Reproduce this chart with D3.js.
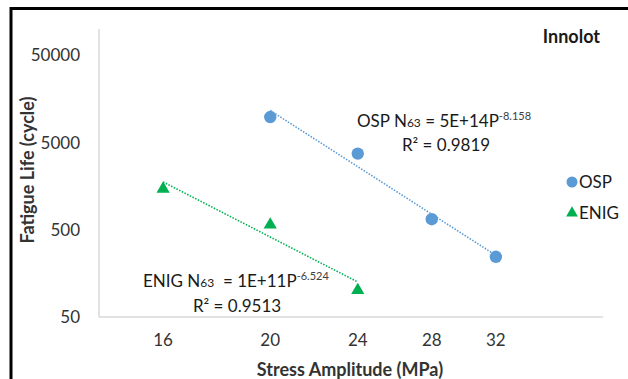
<!DOCTYPE html>
<html>
<head>
<meta charset="utf-8">
<script src="https://cdn.jsdelivr.net/npm/d3@7"></script>
<style>
  body { margin: 0; background: #fff; }
  svg text { font-family: Lato, "Open Sans", sans-serif; white-space: pre; }
</style>
</head>
<body>
<div id="chart"></div>
<script>
// data
var ospStress = [20, 24, 28, 32];
var ospLife = [9800, 3730, 660, 245];
var enigStress = [16, 20, 24];
var enigLife = [1510, 585, 104];
var xTicks = [16, 20, 24, 28, 32];
var yTicks = [50, 500, 5000, 50000];
var ospColor = "#5b9bd5";
var enigColor = "#00b050";

var width = 628, height = 379;
var svg = d3.select("#chart").append("svg")
    .attr("width", width)
    .attr("height", height);

// frame
svg.append("rect")
    .attr("x", 11).attr("y", 8.5)
    .attr("width", width + 20).attr("height", height + 20)
    .attr("fill", "none")
    .attr("stroke", "#000")
    .attr("stroke-width", 3);

var x = d3.scaleLog().domain([14, 40]).range([99, 603]);
var y = d3.scaleLog().domain([50, 100000]).range([317, 29]);

// axis lines
svg.append("line")
    .attr("x1", 99).attr("x2", 99).attr("y1", 29).attr("y2", 317)
    .attr("stroke", "#d9d9d9").attr("stroke-width", 1.5);
svg.append("line")
    .attr("x1", 99).attr("x2", 603).attr("y1", 317).attr("y2", 317)
    .attr("stroke", "#d9d9d9").attr("stroke-width", 1.5);

// tick labels
svg.selectAll(".xtick").data(xTicks).enter().append("text")
    .attr("class", "xtick")
    .attr("x", function(d){ return x(d); })
    .attr("y", 346)
    .attr("text-anchor", "middle")
    .attr("font-size", 17)
    .attr("fill", "#333")
    .text(function(d){ return d; });

svg.selectAll(".ytick").data(yTicks).enter().append("text")
    .attr("class", "ytick")
    .attr("x", 80)
    .attr("y", function(d){ return y(d) + 6; })
    .attr("text-anchor", "end")
    .attr("font-size", 17)
    .attr("fill", "#333")
    .text(function(d){ return d; });

// axis titles
svg.append("text")
    .attr("x", 350).attr("y", 376)
    .attr("text-anchor", "middle")
    .attr("font-size", 18).attr("font-weight", "bold")
    .attr("fill", "#333")
    .text("Stress Amplitude (MPa)");

svg.append("text")
    .attr("transform", "translate(34,170) rotate(-90)")
    .attr("text-anchor", "middle")
    .attr("font-size", 18).attr("font-weight", "bold")
    .attr("fill", "#333")
    .text("Fatigue Life (cycle)");

svg.append("text")
    .attr("x", 600).attr("y", 43)
    .attr("text-anchor", "end")
    .attr("font-size", 18).attr("font-weight", "bold")
    .attr("fill", "#1a1a1a")
    .text("Innolot");

// power trendline: least squares in log-log space
function powerFit(xs, ys){
    var lx = xs.map(Math.log), ly = ys.map(Math.log);
    var mx = d3.mean(lx), my = d3.mean(ly);
    var sxy = d3.sum(lx, function(v, i){ return (v - mx) * (ly[i] - my); });
    var sxx = d3.sum(lx, function(v){ return (v - mx) * (v - mx); });
    var b = sxy / sxx;
    var a = Math.exp(my - b * mx);
    return function(p){ return a * Math.pow(p, b); };
}

function trend(xs, ys, color){
    var f = powerFit(xs, ys);
    var lo = d3.min(xs), hi = d3.max(xs);
    var pts = d3.range(0, 21).map(function(i){ var p = lo + (hi - lo) * i / 20; return [p, f(p)]; });
    svg.append("path")
        .datum(pts)
        .attr("fill", "none")
        .attr("stroke", color)
        .attr("stroke-width", 1.6)
        .attr("stroke-dasharray", "1.5,1.5")
        .attr("d", d3.line().x(function(d){ return x(d[0]); }).y(function(d){ return y(d[1]); }));
}

trend(ospStress, ospLife, ospColor);
trend(enigStress, enigLife, enigColor);

// markers
svg.selectAll(".osp").data(ospStress).enter().append("circle")
    .attr("class", "osp")
    .attr("cx", function(d){ return x(d); })
    .attr("cy", function(d, i){ return y(ospLife[i]); })
    .attr("r", 6.2)
    .attr("fill", ospColor);

var tri = d3.symbol().type(d3.symbolTriangle).size(75);
svg.selectAll(".enig").data(enigStress).enter().append("path")
    .attr("class", "enig")
    .attr("d", tri)
    .attr("transform", function(d, i){ return "translate(" + x(d) + "," + (y(enigLife[i]) + 1) + ")"; })
    .attr("fill", enigColor);

// equation labels
function equation(xPos, yPos, name, gap, coef, expo){
    var t = svg.append("text")
        .attr("x", xPos).attr("y", yPos)
        .attr("font-size", 17)
        .attr("fill", "#1a1a1a");
    t.append("tspan").text(name + " N");
    t.append("tspan").attr("font-size", 12).text("63");
    t.append("tspan").attr("font-size", 17).text(gap + "= " + coef + "P");
    t.append("tspan").attr("font-size", 11).attr("dy", -7).attr("fill", "#404040").text(expo);
    return t;
}

equation(357, 127, "OSP", " ", "5E+14", "-8.158");
svg.append("text")
    .attr("x", 446).attr("y", 151)
    .attr("text-anchor", "middle")
    .attr("font-size", 17).attr("fill", "#1a1a1a")
    .text("R\u00b2 = 0.9819");

equation(143, 287, "ENIG", "  ", "1E+11", "-6.524");
svg.append("text")
    .attr("x", 237).attr("y", 312)
    .attr("text-anchor", "middle")
    .attr("font-size", 17).attr("fill", "#1a1a1a")
    .text("R\u00b2 = 0.9513");

// legend
svg.append("circle")
    .attr("cx", 572).attr("cy", 182).attr("r", 5.5)
    .attr("fill", ospColor);
svg.append("text")
    .attr("x", 579).attr("y", 188)
    .attr("font-size", 17).attr("fill", "#1a1a1a")
    .text("OSP");
svg.append("path")
    .attr("d", d3.symbol().type(d3.symbolTriangle).size(60))
    .attr("transform", "translate(572,213)")
    .attr("fill", enigColor);
svg.append("text")
    .attr("x", 579).attr("y", 219)
    .attr("font-size", 17).attr("fill", "#1a1a1a")
    .text("ENIG");
</script>
</body>
</html>
